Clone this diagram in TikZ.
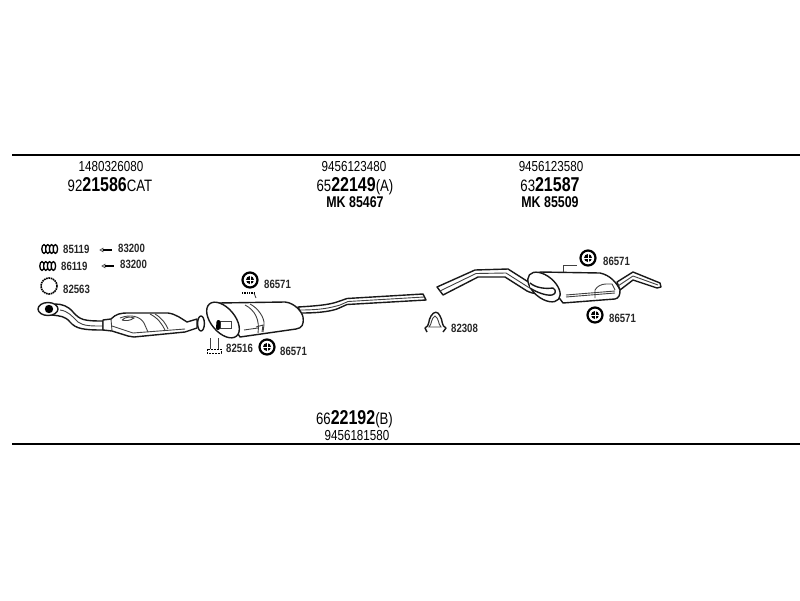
\documentclass[tikz,border=0pt]{standalone}
\usepackage{fontspec}
\setmainfont[FakeStretch=0.8]{Liberation Sans}
\usetikzlibrary{calc}
\tikzset{
	partno/.style={inner sep=0pt,font=\fontsize{14.5}{14.5}\selectfont},
	typeno/.style={inner sep=0pt,font=\fontsize{16.5}{16.5}\selectfont},
	mkno/.style={inner sep=0pt,font=\fontsize{15.5}{15.5}\bfseries\selectfont},
	smallno/.style={inner sep=0pt,anchor=west,font=\fontsize{12}{12}\bfseries\selectfont,text=black!85},
	outline/.style={line width=1.4pt,fill=white,line join=round,draw=black!90},
	thin part/.style={line width=0.9pt,draw=black!75},
	rule/.style={line width=1.5pt}
}
\newcommand{\bignum}[1]{\textbf{\fontsize{20}{20}\selectfont #1}}
\newcommand{\bushing}[1]{%
	\draw[line width=2.2pt,fill=white] (#1) circle (7.5pt);
	\fill (#1) circle (4pt);
	\draw[white,line width=0.7pt] ($(#1)+(-5.5,0)$) -- ($(#1)+(5.5,0)$);
	\draw[white,line width=0.7pt] ($(#1)+(0,-5.5)$) -- ($(#1)+(0,5.5)$);
}
\newcommand{\spring}[1]{%
	\foreach \k in {0,...,3}
		\draw[line width=1.3pt,fill=white] ($(#1)+(\k*3.8,0)$) ellipse (2.2pt and 4.4pt);
}
\newcommand{\bolt}[1]{%
	\draw[line width=0.7pt,draw=black!70] ($(#1)+(-6,0)$) -- ($(#1)+(-3,-1.8)$) -- ($(#1)+(-3,1.8)$) -- cycle;
	\draw[line width=2.2pt] ($(#1)+(-3,0)$) -- ($(#1)+(6,0)$);
}
\begin{document}
\begin{tikzpicture}[x=1pt,y=-1pt]
	\useasboundingbox (0,0) rectangle (800,600);
	\draw[rule] (12,155) -- (800,155);
	\draw[rule] (12,444) -- (800,444);
	% part numbers
	\node[partno] (n1) at (111,166.5) {1480326080};
	\node[typeno] (n2) at (110,185) {92\bignum{21586}CAT};
	\node[partno] (n3) at (354,167) {9456123480};
	\node[typeno] (n4) at (355,186) {65\bignum{22149}(A)};
	\node[mkno] (n5) at (355,202) {MK 85467};
	\node[partno] (n6) at (551,167) {9456123580};
	\node[typeno] (n7) at (550,185) {63\bignum{21587}};
	\node[mkno] (n8) at (550,202) {MK 85509};
	\node[typeno] (n9) at (354.5,419) {66\bignum{22192}(B)};
	\node[partno] (n10) at (357,435.5) {9456181580};
	% front pipe and catalyst
	\draw[outline] (55,304) .. controls (62,304) and (68,306) .. (73,312) .. controls (80,320) and (84,321) .. (103,321)
		-- (103,330) .. controls (84,330) and (76,329) .. (70,322) .. controls (65,316) and (60,316) .. (52,315) -- cycle;
	\draw[thin part] (60,310) .. controls (68,311) and (72,316) .. (78,322) .. controls (84,326) and (90,326) .. (103,326);
	\draw[outline] (103,320) -- (111,319) .. controls (116,314) and (120,313) .. (128,313) -- (168,313)
		.. controls (176,314) and (182,319) .. (187,322) -- (197,319) -- (197,328) -- (185,332)
		-- (134,337) -- (128,336) -- (112,331) -- (103,330) -- cycle;
	\draw[thin part] (112,331) -- (111,319);
	\draw[thin part] (112,326) -- (133,333) -- (185,329);
	\draw[thin part] (120,318) .. controls (130,314) and (140,316) .. (144,323) -- (148,332);
	\draw[thin part] (122,320) .. controls (126,316) and (132,317) .. (134,318) .. controls (130,321) and (125,321) .. (122,320);
	\draw[thin part] (150,314) .. controls (158,318) and (162,324) .. (165,330);
	\draw[thin part] (155,314) .. controls (162,318) and (166,324) .. (168,329);
	\draw[outline] (201,323.5) ellipse (3.4pt and 7.5pt);
	\draw[outline] (48,309) ellipse (10pt and 6.5pt);
	\fill (49,309) circle (4.2pt);
	% front silencer
	\draw[outline] (298,307) .. controls (315,306) and (328,305) .. (337,302) -- (347,298.5) -- (423,294) -- (426,300) -- (347,304.5)
		-- (337,309) .. controls (328,312) and (315,313) .. (301,313) -- cycle;
	\draw[thin part] (300,310) .. controls (320,310) and (330,308) .. (340,305) -- (348,301.5) -- (424,297);
	\draw[outline] (218,303) -- (285,302) .. controls (295,303) and (302,312) .. (303,317)
		.. controls (304,325) and (302,328) .. (296,329) -- (240,337) -- cycle;
	\draw[outline,rotate around={-50:(223,320)}] (223,320) ellipse (21pt and 12pt);
	\draw[thin part] (250,304) .. controls (258,308) and (265,318) .. (264,325) -- (263,332);
	\draw[thin part] (245,305) .. controls (255,310) and (260,320) .. (258,333);
	\draw[thin part] (244,330) -- (258,328);
	\draw[thin part] (256,327) -- (263,325) -- (262,332);
	\draw[thin part,fill=white] (220,321) rectangle (231,328);
	\draw[line width=4pt,line cap=round] (218.5,322) -- (218,328);
	% rear pipe and silencer
	\draw[outline] (437,287) -- (475,270) -- (508,269) -- (530,283) .. controls (536,288) and (545,289) .. (553,288)
		-- (553,294) .. controls (542,295) and (533,294) .. (527,291) -- (505,277) -- (478,277) -- (443,295) -- cycle;
	\draw[thin part] (440,291) -- (476,273.5) -- (506,273) -- (528,287) .. controls (535,291) and (545,291) .. (553,291);
	\draw[outline] (617,282) -- (633,272) -- (660,283) -- (661,287) -- (657,288) -- (633,280) -- (620,290) -- cycle;
	\draw[thin part] (618,286) -- (633,276) -- (658,285);
	\draw[outline] (540,272) -- (600,273) .. controls (610,275) and (617,283) .. (620,290)
		.. controls (620,295) and (619,298) .. (615,299) -- (563,303) -- cycle;
	\draw[outline,rotate around={-40:(544,287)}] (544,287) ellipse (19pt and 11pt);
	\draw[outline] (530,283) .. controls (536,288) and (545,289) .. (553,288) -- (555,290) .. controls (556,293) and (554,295) .. (552,295)
		.. controls (546,296) and (536,292) .. (530,288);
	\draw[thin part] (566,295) -- (615,291);
	\draw[thin part] (566,297) -- (615,293);
	\draw[thin part] (595,298) -- (595,290) .. controls (597,286) and (602,284) .. (606,284) -- (612,284) -- (615,290);
	% clamp
	\draw[outline,fill=none] (427,332) -- (425,328) .. controls (430,326) and (428,320) .. (431,316) .. controls (434,311) and (438,311) .. (440,316)
		.. controls (443,320) and (441,326) .. (446,328) -- (443,332);
	\draw[thin part] (429,327) .. controls (432,324) and (431,318) .. (435,316) .. controls (439,318) and (438,324) .. (441,327) -- cycle;
	% hardware
	\spring{44,249}
	\spring{42,266}
	\bolt{106,250}
	\bolt{108,266}
	\draw[line width=1.6pt,dash pattern=on 1.6pt off 0.7pt] (49,286) circle (8pt);
	\draw[thin part] (210,338) -- (210,349);
	\draw[thin part] (218,338) -- (218,349);
	\draw[line width=1pt,dash pattern=on 2pt off 1pt] (207,349) rectangle (221,353);
	\bushing{250,280}
	\bushing{267,347}
	\bushing{588,258}
	\bushing{595,315}
	\draw[thin part] (254,293) -- (256,298);
	\draw[line width=1.2pt,dash pattern=on 1pt off 0.7pt] (242,293) -- (255,293);
	\draw[thin part] (563,265) -- (577,265);
	\draw[thin part] (563,265) -- (563,272);
	% small labels
	\node[smallno] (a1) at (63,249.5) {85119};
	\node[smallno] (a2) at (61,266) {86119};
	\node[smallno] (a3) at (118,248) {83200};
	\node[smallno] (a4) at (120,264) {83200};
	\node[smallno] (a5) at (63,289) {82563};
	\node[smallno] (a6) at (264,284) {86571};
	\node[smallno] (a7) at (226,348) {82516};
	\node[smallno] (a8) at (280,351) {86571};
	\node[smallno] (a9) at (451,328) {82308};
	\node[smallno] (a10) at (603,261) {86571};
	\node[smallno] (a11) at (609,318.5) {86571};
\end{tikzpicture}
\end{document}
